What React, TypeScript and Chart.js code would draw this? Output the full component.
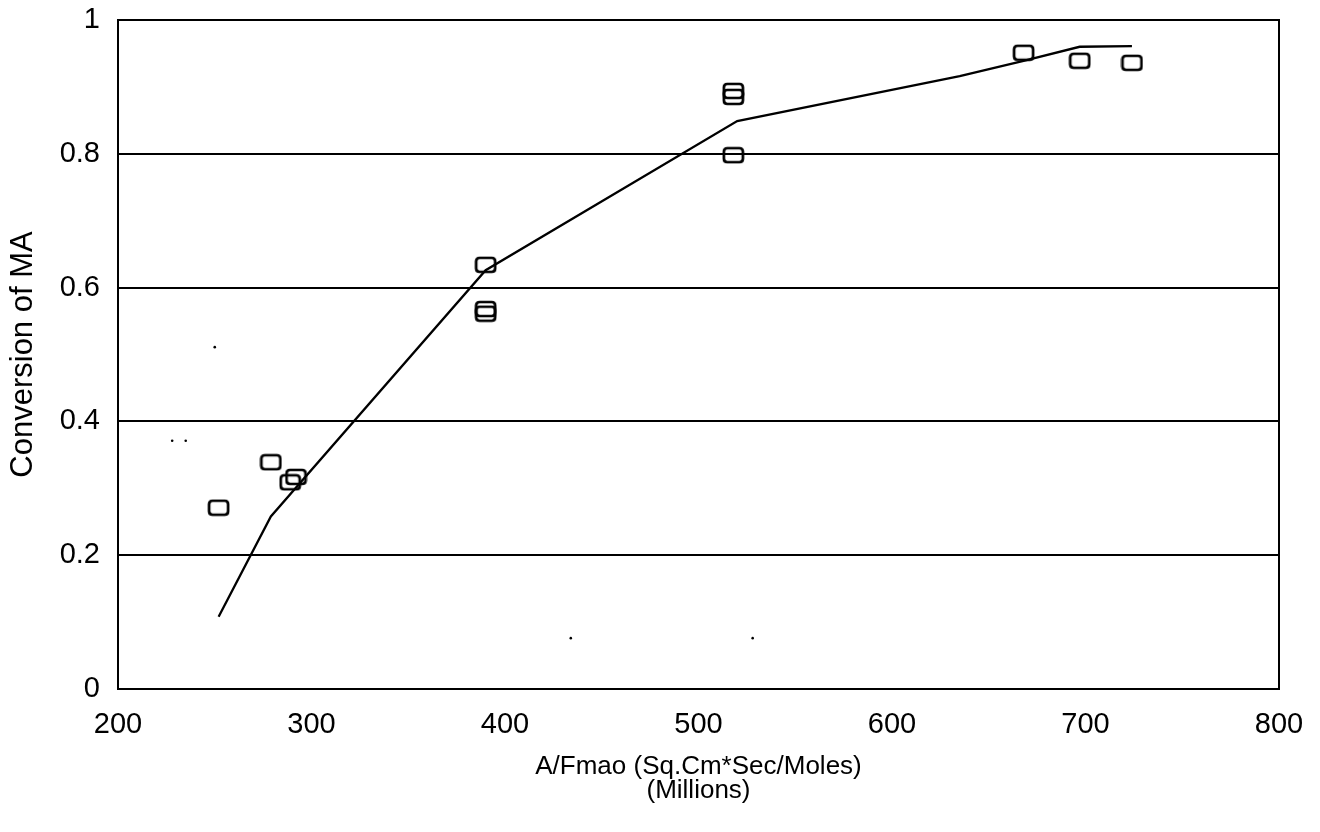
import React, { useEffect, useRef } from "react";
import { Chart, registerables } from "chart.js";

Chart.register(...registerables);

// Measured data (squares)
const measuredX = [252, 279, 289, 292, 390, 390, 390, 518, 518, 518, 668, 697, 724];
const measuredY = [0.271, 0.339, 0.309, 0.317, 0.634, 0.568, 0.561, 0.894, 0.885, 0.798, 0.951, 0.939, 0.936];

// Model curve (solid line)
const modelX = [252, 279, 390, 520, 635, 668, 697, 724];
const modelY = [0.108, 0.258, 0.626, 0.849, 0.916, 0.939, 0.96, 0.961];

// Small stray specks visible in the scan
const speckX = [250, 228, 235, 434, 528];
const speckY = [0.511, 0.371, 0.371, 0.076, 0.076];

const xTickMin = 200;
const xTickMax = 800;
const xTickStep = 100;
const yTickMin = 0;
const yTickMax = 1;
const yTickStep = 0.2;

const xTitle = ["A/Fmao (Sq.Cm*Sec/Moles)", "(Millions)"];
const yTitle = "Conversion of MA";

const FONT = "'Liberation Sans', Arial, Helvetica, sans-serif";

function makeSquare(): HTMLCanvasElement {
  const c = document.createElement("canvas");
  c.width = 23;
  c.height = 18;
  const g = c.getContext("2d")!;
  g.strokeStyle = "#000";
  g.lineWidth = 2.7;
  g.beginPath();
  const x = 2, y = 2, w = 19, h = 14, r = 3.5;
  g.moveTo(x + r, y);
  g.lineTo(x + w - r, y);
  g.quadraticCurveTo(x + w, y, x + w, y + r);
  g.lineTo(x + w, y + h - r);
  g.quadraticCurveTo(x + w, y + h, x + w - r, y + h);
  g.lineTo(x + r, y + h);
  g.quadraticCurveTo(x, y + h, x, y + h - r);
  g.lineTo(x, y + r);
  g.quadraticCurveTo(x, y, x + r, y);
  g.closePath();
  g.stroke();
  return c;
}

const frame = {
  id: "frame",
  afterDatasetsDraw(chart: any) {
    const { ctx, chartArea } = chart;
    ctx.save();
    ctx.strokeStyle = "#000";
    ctx.lineWidth = 2;
    ctx.strokeRect(chartArea.left, chartArea.top, chartArea.right - chartArea.left, chartArea.bottom - chartArea.top);
    ctx.restore();
  },
};

export default function App() {
  const ref = useRef<HTMLCanvasElement | null>(null);

  useEffect(() => {
    if (!ref.current) return;
    Chart.defaults.color = "#000";
    Chart.defaults.font.family = FONT;
    const square = makeSquare();
    const chart = new Chart(ref.current, {
      type: "scatter",
      data: {
        datasets: [
          {
            label: "Model",
            data: modelX.map((x, i) => ({ x, y: modelY[i] })),
            showLine: true,
            borderColor: "#000",
            borderWidth: 2.3,
            pointRadius: 0,
            tension: 0,
            fill: false,
          },
          {
            label: "Data",
            data: measuredX.map((x, i) => ({ x, y: measuredY[i] })),
            showLine: false,
            pointStyle: square as any,
            pointRadius: 9,
          },
          {
            label: "Specks",
            data: speckX.map((x, i) => ({ x, y: speckY[i] })),
            showLine: false,
            pointStyle: "circle",
            pointRadius: 1.3,
            backgroundColor: "#000",
            borderColor: "#000",
            borderWidth: 0,
          },
        ],
      },
      options: {
        animation: false,
        responsive: false,
        maintainAspectRatio: false,
        layout: { padding: { left: 0, right: 41, top: 20, bottom: 0 } },
        plugins: { legend: { display: false }, tooltip: { enabled: false } },
        scales: {
          x: {
            type: "linear",
            min: xTickMin,
            max: xTickMax,
            ticks: { stepSize: xTickStep, padding: 19, font: { size: 29 }, color: "#000" },
            grid: { display: false, drawTicks: false },
            border: { display: false },
            title: {
              display: true,
              text: xTitle,
              font: { size: 26, lineHeight: 0.92 },
              color: "#000",
              padding: { top: 0, bottom: 29 },
            },
            afterFit: (s: any) => {
              s.height = 143;
              s.paddingLeft = 0;
              s.paddingRight = 0;
            },
          },
          y: {
            type: "linear",
            min: yTickMin,
            max: yTickMax,
            ticks: {
              stepSize: yTickStep,
              padding: 18,
              font: { size: 29 },
              color: "#000",
              callback: (v: any) => String(Number(Number(v).toFixed(1))),
            },
            grid: { color: "#000", lineWidth: 2, drawTicks: false },
            border: { display: false },
            title: {
              display: true,
              text: yTitle,
              font: { size: 31 },
              color: "#000",
              padding: { top: 5, bottom: 0 },
            },
            afterFit: (s: any) => {
              s.width = 118;
              s.paddingTop = 0;
              s.paddingBottom = 0;
            },
          },
        },
      },
      plugins: [frame],
    });
    return () => chart.destroy();
  }, []);

  return (
    <div style={{ position: "fixed", left: 0, top: 0, width: 1320, height: 832, background: "#fff" }}>
      <canvas ref={ref} width={1320} height={832} style={{ width: 1320, height: 832, display: "block" }} />
    </div>
  );
}
